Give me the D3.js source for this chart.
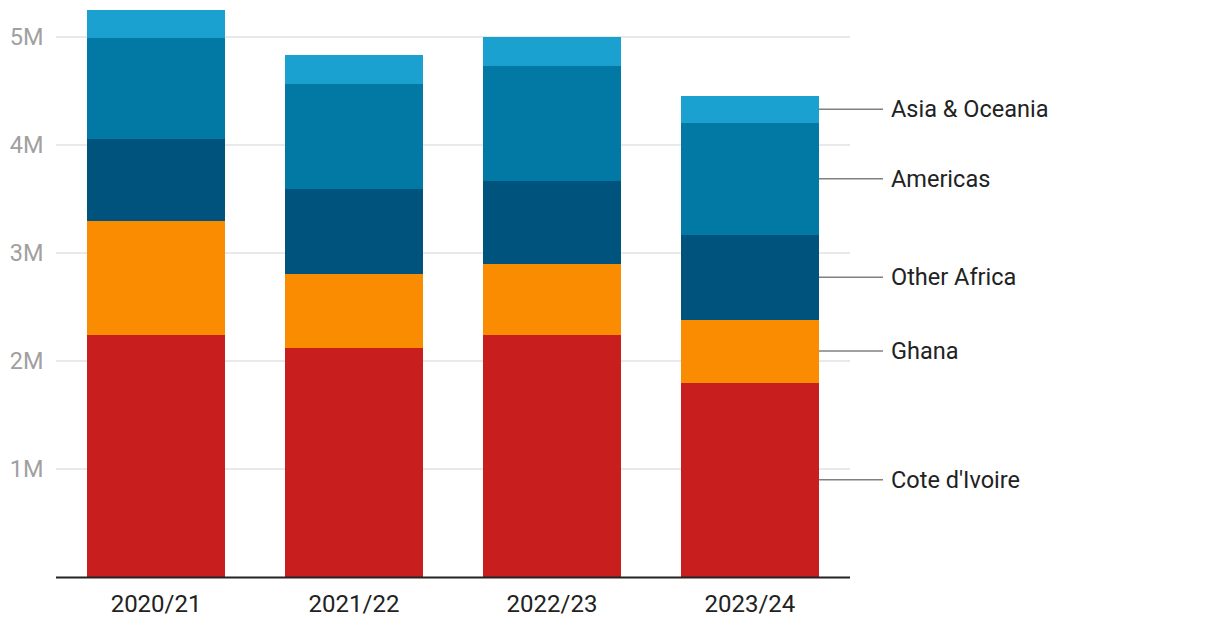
<!DOCTYPE html>
<html>
<head>
<meta charset="utf-8">
<script src="https://cdn.jsdelivr.net/npm/d3@7"></script>
<style>
  html, body { margin: 0; padding: 0; background: #fff; }
  svg { display: block; font-family: Roboto, "Noto Sans", sans-serif; }
</style>
</head>
<body>
<svg id="chart" width="1220" height="632"></svg>
<script>
const categories = ["2020/21", "2021/22", "2022/23", "2023/24"];
const seriesNames = ["Cote d'Ivoire", "Ghana", "Other Africa", "Americas", "Asia & Oceania"];
const coteDIvoire = [2.24e6, 2.12e6, 2.24e6, 1.80e6];
const ghana       = [1.056e6, 0.685e6, 0.657e6, 0.583e6];
const otherAfrica = [0.76e6, 0.787e6, 0.769e6, 0.787e6];
const americas    = [0.935e6, 0.972e6, 1.065e6, 1.037e6];
const asiaOceania = [0.26e6, 0.268e6, 0.269e6, 0.25e6];
const yTicks = [1e6, 2e6, 3e6, 4e6, 5e6];
const yTickLabels = ["1M", "2M", "3M", "4M", "5M"];
const colors = ["#c81e1e", "#f98c00", "#00537c", "#0279a4", "#1aa1cf"];

(function () {
const seriesValues = [coteDIvoire, ghana, otherAfrica, americas, asiaOceania];
const table = categories.map((c, i) => {
  const row = { cat: c };
  seriesNames.forEach((s, j) => row[s] = seriesValues[j][i]);
  return row;
});

const svg = d3.select("#chart");
const mLeft = 56, mRight = 850, mTop = 37, mBottom = 577;

const x = d3.scaleBand().domain(categories).range([mLeft, mRight])
  .paddingInner(0.303).paddingOuter(0.157);
const y = d3.scaleLinear().domain([0, 5e6]).range([mBottom, mTop]);

// gridlines
svg.append("g").selectAll("line").data(yTicks).join("line")
  .attr("x1", mLeft).attr("x2", mRight)
  .attr("y1", d => y(d)).attr("y2", d => y(d))
  .attr("stroke", "#e2e2e2").attr("stroke-width", 1.5);

// y labels
svg.append("g").selectAll("text").data(yTicks).join("text")
  .attr("x", 43.5).attr("y", d => y(d))
  .attr("dy", "0.35em")
  .attr("text-anchor", "end")
  .attr("fill", "#a0a0a0")
  .attr("font-size", 23.5)
  .text((d, i) => yTickLabels[i]);

const stacked = d3.stack().keys(seriesNames)(table);

svg.append("g").attr("shape-rendering", "crispEdges")
  .selectAll("g").data(stacked).join("g")
  .attr("fill", (d, i) => colors[i])
  .selectAll("rect").data(d => d).join("rect")
  .attr("x", d => x(d.data.cat))
  .attr("width", x.bandwidth())
  .attr("y", d => y(d[1]))
  .attr("height", d => y(d[0]) - y(d[1]));

// baseline axis
svg.append("line")
  .attr("x1", mLeft).attr("x2", mRight)
  .attr("y1", y(0) + 0.5).attr("y2", y(0) + 0.5)
  .attr("stroke", "#222").attr("stroke-width", 2);

// x labels
svg.append("g").selectAll("text").data(categories).join("text")
  .attr("x", d => x(d) + x.bandwidth() / 2)
  .attr("y", 612)
  .attr("text-anchor", "middle")
  .attr("fill", "#222")
  .attr("font-size", 24)
  .text(d => d);

// legend labels with leader lines at last bar
const lastCat = categories[categories.length - 1];
const lx = x(lastCat) + x.bandwidth();
const legend = svg.append("g");
stacked.forEach((s, i) => {
  const d = s[s.length - 1];
  const my = y((d[0] + d[1]) / 2);
  legend.append("line")
    .attr("x1", lx).attr("x2", 883)
    .attr("y1", my).attr("y2", my)
    .attr("stroke", "#808080").attr("stroke-width", 1.5);
  legend.append("text")
    .attr("x", 891).attr("y", my)
    .attr("dy", "0.35em")
    .attr("fill", "#222")
    .attr("font-size", 23.5)
    .text(seriesNames[i]);
});
})();
</script>
</body>
</html>
